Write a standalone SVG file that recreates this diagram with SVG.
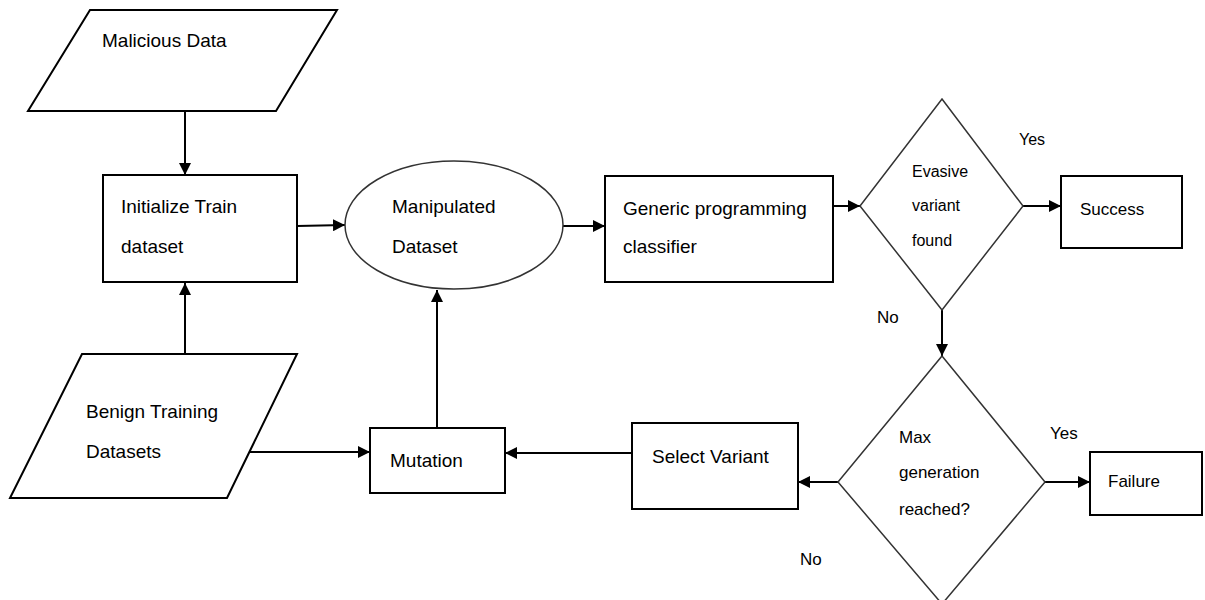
<svg xmlns="http://www.w3.org/2000/svg" width="1205" height="600" viewBox="0 0 1205 600">
<defs>
<style>
.shape{fill:#fff;stroke:#000;stroke-width:2}
.thin{fill:#fff;stroke:#333;stroke-width:1.5}
.conn{fill:none;stroke:#000;stroke-width:2}
text{font-family:"Liberation Sans",Arial,sans-serif;fill:#000;font-size:19px}
.sm{font-size:16px}
.md{font-size:17px}
</style>
<marker id="ah" markerUnits="userSpaceOnUse" markerWidth="12" markerHeight="12" refX="12" refY="6" orient="auto">
<path d="M0,0 L12,6 L0,12 z" fill="#000"/>
</marker>
</defs>
<rect width="1205" height="600" fill="#fff"/>
<g id="connectors">
<line class="conn" x1="185" y1="111" x2="185" y2="175" marker-end="url(#ah)"/>
<line class="conn" x1="185" y1="354" x2="185" y2="283" marker-end="url(#ah)"/>
<line class="conn" x1="297" y1="226" x2="345" y2="225" marker-end="url(#ah)"/>
<line class="conn" x1="563" y1="226" x2="605" y2="226" marker-end="url(#ah)"/>
<line class="conn" x1="833" y1="206" x2="860" y2="206" marker-end="url(#ah)"/>
<line class="conn" x1="1023" y1="206" x2="1061" y2="206" marker-end="url(#ah)"/>
<line class="conn" x1="942" y1="310" x2="942" y2="356" marker-end="url(#ah)"/>
<line class="conn" x1="1045" y1="482" x2="1090" y2="482" marker-end="url(#ah)"/>
<line class="conn" x1="838" y1="482" x2="798" y2="482" marker-end="url(#ah)"/>
<line class="conn" x1="632" y1="453" x2="505" y2="453" marker-end="url(#ah)"/>
<line class="conn" x1="247" y1="452" x2="370" y2="452" marker-end="url(#ah)"/>
<line class="conn" x1="437" y1="428" x2="437" y2="290" marker-end="url(#ah)"/>
</g>
<g id="malicious">
<polygon class="shape" points="90,10 337,10 276,111 28,111"/>
<text x="102" y="47">Malicious Data</text>
</g>
<g id="initialize">
<rect class="shape" x="103" y="175" width="194" height="107"/>
<text x="121" y="213">Initialize Train</text>
<text x="121" y="253">dataset</text>
</g>
<g id="benign">
<polygon class="shape" points="82,354 297,354 227,498 10,498"/>
<text x="86" y="418">Benign Training</text>
<text x="86" y="458">Datasets</text>
</g>
<g id="manipulated">
<ellipse class="thin" cx="454" cy="225" rx="109" ry="64"/>
<text x="392" y="213">Manipulated</text>
<text x="392" y="253">Dataset</text>
</g>
<g id="generic">
<rect class="shape" x="605" y="176" width="228" height="106"/>
<text x="623" y="215">Generic programming</text>
<text x="623" y="253">classifier</text>
</g>
<g id="evasive">
<polygon class="thin" points="942,99 1023,206 942,310 860,206"/>
<text class="sm" x="912" y="177">Evasive</text>
<text class="sm" x="912" y="211">variant</text>
<text class="sm" x="912" y="246">found</text>
</g>
<g id="success">
<rect class="shape" x="1061" y="176" width="121" height="72"/>
<text class="md" x="1080" y="215">Success</text>
</g>
<g id="maxgen">
<polygon class="thin" points="942,356 1045,482 942,604 838,482"/>
<text class="md" x="899" y="443">Max</text>
<text class="md" x="899" y="478">generation</text>
<text class="md" x="899" y="515">reached?</text>
</g>
<g id="failure">
<rect class="shape" x="1090" y="452" width="112" height="63"/>
<text class="md" x="1108" y="487">Failure</text>
</g>
<g id="select">
<rect class="shape" x="632" y="423" width="166" height="86"/>
<text x="652" y="463">Select Variant</text>
</g>
<g id="mutation">
<rect class="shape" x="370" y="428" width="135" height="65"/>
<text x="390" y="467">Mutation</text>
</g>
<g id="labels">
<text class="sm" x="1019" y="145">Yes</text>
<text class="md" x="877" y="323">No</text>
<text class="md" x="1050" y="439">Yes</text>
<text class="md" x="800" y="565">No</text>
</g>
</svg>
